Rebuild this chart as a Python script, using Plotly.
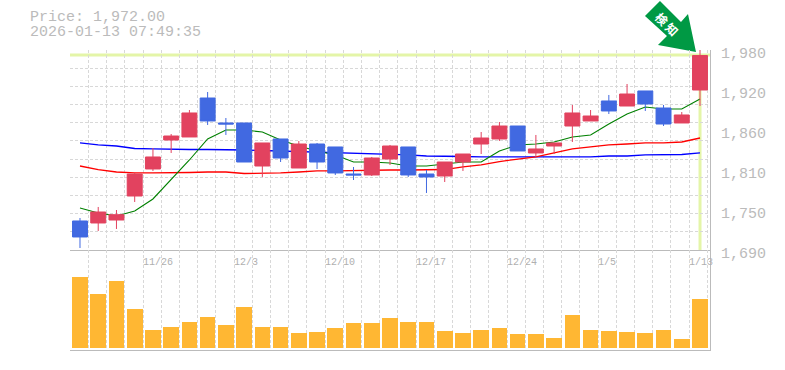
import plotly.graph_objects as go

W, H = 785, 370
index = list(range(35))
opens  = [1732.1,1729.2,1733.5,1768.3,1807.5,1849.5,1853.9,1910.4,1874.2,1874.2,1811.8,1851.0,1808.9,1843.7,1839.4,1800.2,1798.8,1822.0,1839.4,1800.2,1797.3,1817.6,1843.7,1851.0,1869.8,1830.7,1840.8,1869.8,1877.1,1906.1,1898.8,1920.6,1895.9,1874.2,1922.0]
highs  = [1736.4,1752.4,1748.0,1801.7,1837.9,1858.2,1893.0,1919.1,1881.4,1874.2,1845.2,1851.0,1848.1,1845.2,1839.4,1810.4,1824.9,1842.3,1839.4,1806.0,1817.6,1829.2,1861.1,1875.6,1869.8,1856.8,1845.2,1900.3,1893.0,1914.8,1930.7,1920.6,1900.3,1890.1,1980.0]
lows   = [1692.9,1717.6,1720.5,1759.6,1804.6,1830.7,1853.9,1871.3,1856.8,1817.6,1795.9,1817.6,1808.9,1807.5,1798.8,1791.5,1797.3,1813.3,1795.9,1772.7,1788.6,1804.6,1829.2,1848.1,1833.6,1824.9,1829.2,1846.6,1877.1,1887.2,1898.8,1891.6,1869.8,1874.2,1898.8]
closes = [1708.9,1745.1,1741.2,1800.2,1824.9,1855.3,1888.7,1877.1,1872.7,1817.6,1845.2,1823.4,1843.7,1817.6,1801.7,1798.8,1823.4,1840.8,1798.8,1795.9,1817.6,1829.2,1852.4,1869.8,1833.6,1836.5,1845.2,1888.7,1884.3,1891.6,1916.2,1901.7,1872.7,1885.8,1972.0]
ma_green = [1750.9,1743.7,1739.3,1746.6,1764.0,1791.5,1820.5,1851.0,1864.0,1864.0,1861.1,1849.5,1840.8,1833.6,1827.8,1817.6,1817.6,1816.2,1811.8,1811.8,1814.7,1817.6,1817.6,1833.6,1842.3,1843.7,1846.6,1853.9,1856.8,1872.7,1887.2,1897.4,1894.5,1894.5,1909.0]
ma_blue  = [1845.2,1842.3,1840.8,1837.2,1836.5,1835.7,1835.7,1835.7,1835.7,1835.0,1834.3,1833.6,1832.8,1832.1,1830.7,1830.7,1829.2,1828.5,1827.8,1826.3,1826.3,1825.6,1824.9,1824.9,1824.9,1824.9,1824.9,1824.9,1824.9,1826.3,1826.3,1827.8,1827.8,1828.5,1830.7]
ma_red   = [1811.8,1806.7,1803.1,1801.7,1801.7,1801.7,1802.4,1803.1,1803.1,1800.9,1800.9,1801.7,1803.1,1804.6,1804.6,1805.3,1806.0,1806.0,1806.0,1806.0,1806.7,1810.4,1813.3,1818.3,1822.0,1824.9,1830.7,1836.5,1839.4,1842.3,1843.7,1845.2,1845.2,1846.6,1852.4]
volumes  = [71,54,67,39,18,21,26,31,23,41,21,21,15,16,20,25,25,30,26,26,17,15,18,20,14,14,10,33,18,17,16,15,18,9,49]

price_ticks = [1980,1922,1864,1806,1748,1690]
price_labels = ["1,980","1,920","1,860","1,810","1,750","1,690"]
date_labels = ["11/26","12/3","12/10","12/17","12/24","1/5","1/13"]
date_grid_steps = [4,9,14,19,24,29,34]
title_lines = ["Price: 1,972.00","2026-01-13 07:49:35"]
last_price = 1972.75
badge = "検 知"

GREY = "#bbbbbb"; GRID = "#d8d8d8"; HILITE = "#e4f5a8"
RED = "#e2425f"; BLUE = "#4169e1"; ORANGE = "#ffb733"; MONO = "Liberation Mono"
X_RANGE = [-0.548, 34.548]
GRID0, GRIDSTEP = -0.532, 0.998
Y_RANGE = [1690, 1980]
V_RANGE = [-2, 98]
def px(x): return x / W
def py(y): return 1 - y / H

fig = go.Figure()
fig.add_trace(go.Scatter(x=index, y=ma_blue, mode="lines", line=dict(color="#0000ff", width=1.3), xaxis="x", yaxis="y"))
fig.add_trace(go.Scatter(x=index, y=ma_red, mode="lines", line=dict(color="#ff0000", width=1.3), xaxis="x", yaxis="y"))
fig.add_trace(go.Scatter(x=index, y=ma_green, mode="lines", line=dict(color="#008000", width=1.1), xaxis="x", yaxis="y"))
fig.add_trace(go.Candlestick(x=index, open=opens, high=highs, low=lows, close=closes, whiskerwidth=0,
    increasing=dict(line=dict(color=RED, width=1), fillcolor=RED),
    decreasing=dict(line=dict(color=BLUE, width=1), fillcolor=BLUE),
    xaxis="x", yaxis="y3"))
fig.add_trace(go.Bar(x=index, y=volumes, marker=dict(color=ORANGE, line=dict(width=0)), width=0.86, xaxis="x2", yaxis="y2"))

grid_common = dict(showgrid=True, griddash="3px,2px", gridcolor=GRID, gridwidth=1)
xcommon = dict(range=X_RANGE, showticklabels=False, ticks="", zeroline=False, showline=True, linecolor=GREY, linewidth=1,
               tickmode="linear", tick0=GRID0, dtick=GRIDSTEP, **grid_common)
annotations = []
for text, k in zip(date_labels, date_grid_steps):
    annotations.append(dict(x=GRID0 + GRIDSTEP * k, y=py(262), xref="x", yref="paper", text=text, showarrow=False,
                            xanchor="left", yanchor="middle", xshift=-2, font=dict(family=MONO, size=10, color="#b0b0b0")))
for line, yy in zip(title_lines, (18, 33)):
    annotations.append(dict(x=px(30), y=py(yy), xref="paper", yref="paper", text=line, showarrow=False, xshift=-2,
                            xanchor="left", yanchor="middle", font=dict(family=MONO, size=15, color=GREY)))
annotations.append(dict(x=px(667), y=py(23.5), xref="paper", yref="paper", text=badge, textangle=45, showarrow=False,
                        xanchor="center", yanchor="middle",
                        font=dict(family="Noto Sans CJK JP", size=12, color="#ffffff", weight="bold")))

arrow = [(660,1),(681,22),(688,14),(696,52),(658,45),(667,36),(645,16)]
path = "M " + " L ".join(f"{px(a):.5f},{py(b):.5f}" for a, b in arrow) + " Z"
shapes = [
    dict(type="path", xref="paper", yref="paper", path=path, fillcolor="#009944", line=dict(width=0), layer="below"),
    dict(type="line", xref="paper", yref="y", x0=px(70), x1=px(710), y0=last_price, y1=last_price, line=dict(color=HILITE, width=3), layer="below"),
    dict(type="line", xref="x", yref="y", x0=34, x1=34, y0=last_price, y1=Y_RANGE[0], line=dict(color=HILITE, width=3), layer="below"),
]
fig.update_layout(
    width=W, height=H, autosize=False, margin=dict(l=0, r=0, t=0, b=0, autoexpand=False), paper_bgcolor="white", plot_bgcolor="white",
    showlegend=False, boxgap=0.18, boxgroupgap=0, bargap=0, barmode="overlay", shapes=shapes, annotations=annotations,
    xaxis=dict(domain=[px(70), px(710)], anchor="y", rangeslider=dict(visible=False), **xcommon),
    xaxis2=dict(domain=[px(70), px(710)], anchor="y2", **xcommon),
    yaxis=dict(domain=[py(250), py(50)], range=Y_RANGE, anchor="x", side="right", tickmode="array", tickvals=price_ticks,
               ticktext=price_labels, showgrid=False, zeroline=False, showline=True, linecolor=GREY, linewidth=1,
               ticks="", ticklabelstandoff=7, ticklabelshift=3, tickfont=dict(family=MONO, size=15, color=GREY),
               minor=dict(tick0=1690, dtick=290/11, ticks="", **grid_common)),
    yaxis2=dict(domain=[py(350), py(250)], range=V_RANGE, anchor="x2", side="right", showticklabels=False, showgrid=False,
                zeroline=False, ticks="", showline=True, linecolor=GREY, linewidth=1),
    yaxis3=dict(overlaying="y", range=Y_RANGE, anchor="x", visible=False, side="right"),
)
fig.write_html("out.html", post_script="document.body.style.margin='0';", config={"displayModeBar": False})
